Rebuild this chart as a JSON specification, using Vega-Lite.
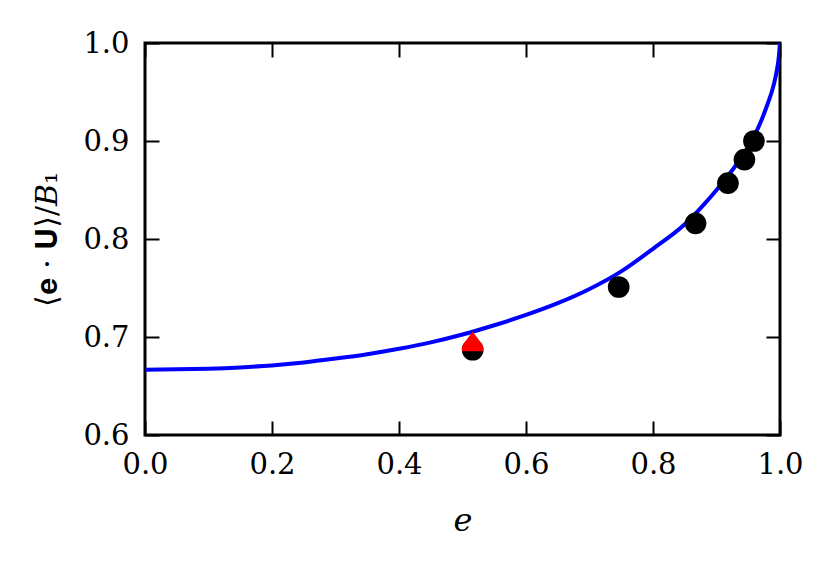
{
  "$schema": "https://vega.github.io/schema/vega-lite/v6.json",
  "width": 635,
  "height": 392,
  "autosize": {"type": "none"},
  "padding": {"left": 145, "top": 43, "right": 51, "bottom": 131},
  "background": "white",
  "config": {
    "view": {"stroke": "black", "strokeWidth": 3},
    "axis": {
      "labelFont": "DejaVu Serif",
      "labelFontSize": 29,
      "labelColor": "black",
      "labelFlush": false,
      "titleFont": "DejaVu Serif",
      "titleColor": "black",
      "titleFontWeight": "normal",
      "domain": false,
      "grid": false,
      "tickColor": "black",
      "tickWidth": 2,
      "tickSize": -14
    }
  },
  "datasets": {
    "curve": [
      {"e": 0.0, "v": 0.6667},
      {"e": 0.05, "v": 0.667},
      {"e": 0.1, "v": 0.6677},
      {"e": 0.15, "v": 0.669},
      {"e": 0.2, "v": 0.671},
      {"e": 0.25, "v": 0.674},
      {"e": 0.3, "v": 0.678},
      {"e": 0.35, "v": 0.6825},
      {"e": 0.4, "v": 0.688},
      {"e": 0.45, "v": 0.6945},
      {"e": 0.5, "v": 0.7025},
      {"e": 0.55, "v": 0.712},
      {"e": 0.6, "v": 0.7225},
      {"e": 0.65, "v": 0.7345},
      {"e": 0.7, "v": 0.749},
      {"e": 0.75, "v": 0.767},
      {"e": 0.8, "v": 0.79},
      {"e": 0.85, "v": 0.815},
      {"e": 0.88, "v": 0.835},
      {"e": 0.9, "v": 0.85},
      {"e": 0.92, "v": 0.866},
      {"e": 0.94, "v": 0.884},
      {"e": 0.96, "v": 0.906},
      {"e": 0.97, "v": 0.92},
      {"e": 0.98, "v": 0.937},
      {"e": 0.99, "v": 0.957},
      {"e": 0.995, "v": 0.972},
      {"e": 0.998, "v": 0.985},
      {"e": 1.0, "v": 1.0}
    ],
    "sim": [
      {"e": 0.516, "v": 0.687},
      {"e": 0.746, "v": 0.751},
      {"e": 0.867, "v": 0.816},
      {"e": 0.918, "v": 0.857},
      {"e": 0.944, "v": 0.881},
      {"e": 0.959, "v": 0.9}
    ],
    "red": [
      {"e": 0.516, "v": 0.687}
    ]
  },
  "layer": [
    {
      "data": {"name": "curve"},
      "mark": {"type": "line", "color": "#0000ff", "strokeWidth": 4, "interpolate": "monotone", "clip": true},
      "encoding": {
        "x": {
          "field": "e", "type": "quantitative",
          "scale": {"domain": [0, 1], "nice": false, "zero": false},
          "axis": {"orient": "bottom", "values": [0, 0.2, 0.4, 0.6, 0.8, 1.0], "format": ".1f", "labelPadding": 29, "title": "e", "titleFontStyle": "italic", "titleFontSize": 32, "titlePadding": 26}
        },
        "y": {
          "field": "v", "type": "quantitative",
          "scale": {"domain": [0.6, 1.0], "nice": false, "zero": false},
          "axis": {"orient": "left", "values": [0.6, 0.7, 0.8, 0.9, 1.0], "format": ".1f", "labelPadding": 30, "title": "⟨𝐞 · 𝐔⟩/𝐵₁", "titleFontSize": 30, "titlePadding": 20}
        }
      }
    },
    {
      "data": {"name": "sim"},
      "mark": {"type": "point", "shape": "circle", "filled": true, "color": "black", "opacity": 1, "size": 470},
      "encoding": {
        "x": {"field": "e", "type": "quantitative", "axis": {"orient": "top", "values": [0, 0.2, 0.4, 0.6, 0.8, 1.0], "labels": false, "title": null}},
        "y": {"field": "v", "type": "quantitative", "axis": {"orient": "right", "values": [0.6, 0.7, 0.8, 0.9, 1.0], "labels": false, "title": null}}
      }
    },
    {
      "data": {"name": "red"},
      "mark": {"type": "point", "shape": "M0,-1.68 L0.804,-0.595 A1,1 0 0 1 0.989,0.15 L-0.989,0.15 A1,1 0 0 1 -0.804,-0.595 Z", "filled": true, "color": "red", "opacity": 1, "size": 470},
      "encoding": {
        "x": {"field": "e", "type": "quantitative", "axis": null},
        "y": {"field": "v", "type": "quantitative", "axis": null}
      }
    }
  ],
  "resolve": {"axis": {"x": "independent", "y": "independent"}}
}
